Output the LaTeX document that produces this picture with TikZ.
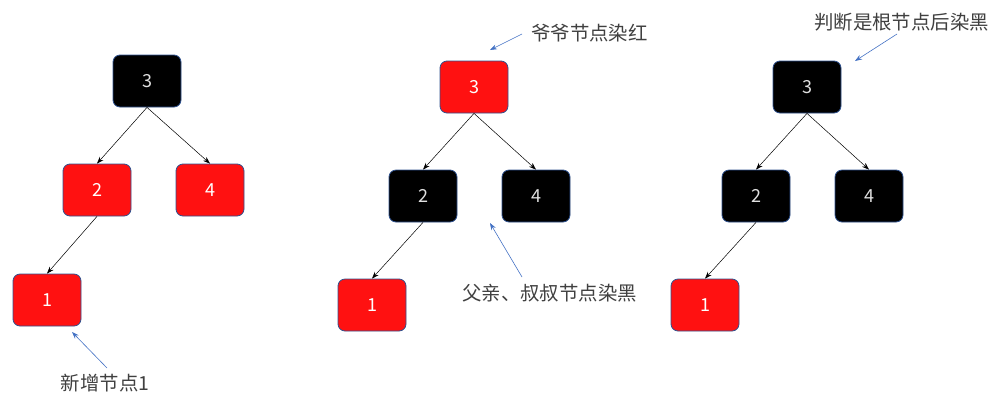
\documentclass[tikz,border=0pt]{standalone}
\usepackage{fontspec}
\setmainfont{Noto Sans CJK SC}
\usetikzlibrary{arrows.meta}
\definecolor{nred}{HTML}{FF1111}
\definecolor{nborder}{HTML}{2F528F}
\definecolor{nblue}{HTML}{4472C4}
\definecolor{ntext}{HTML}{404040}
\tikzset{
  tnode/.style={draw=nborder, line width=0.8pt, rounded corners=7pt, minimum width=68pt, minimum height=52pt, inner sep=0pt, font=\fontsize{18}{21}\selectfont},
  rednode/.style={tnode, fill=nred, text=white},
  blacknode/.style={tnode, fill=black, text=white!88!black},
  edge/.style={-{Stealth[length=7pt,width=5pt]}, line width=0.5pt, black},
  note/.style={-{Stealth[length=7pt,width=5pt]}, line width=0.6pt, nblue},
  label/.style={text=ntext, inner sep=0pt, font=\fontsize{19.4}{22}\selectfont}
}
\begin{document}
\begin{tikzpicture}[x=1pt,y=-1pt]
\useasboundingbox (0,0) rectangle (1007,408);
% tree 1
\node[blacknode] (a3) at (147,81) {3};
\node[rednode] (a2) at (97,190) {2};
\node[rednode] (a4) at (210,190) {4};
\node[rednode] (a1) at (47,300) {1};
\draw[edge] (a3.south) -- (a2.north);
\draw[edge] (a3.south) -- (a4.north);
\draw[edge] (a2.south) -- (a1.north);
\node[label] (la) at (105,383) {新增节点1};
\coordinate (la0) at (107,368);
\coordinate (la1) at (72,332);
\draw[note] (la0) -- (la1);
% tree 2
\node[rednode] (b3) at (474,87) {3};
\node[blacknode] (b2) at (423,196) {2};
\node[blacknode] (b4) at (536,196) {4};
\node[rednode] (b1) at (372,305) {1};
\draw[edge] (b3.south) -- (b2.north);
\draw[edge] (b3.south) -- (b4.north);
\draw[edge] (b2.south) -- (b1.north);
\node[label, anchor=west] (lb) at (531,33) {爷爷节点染红};
\coordinate (lb0) at (522,34);
\coordinate (lb1) at (490,50);
\draw[note] (lb0) -- (lb1);
\node[label, anchor=west] (lc) at (462,293) {父亲、叔叔节点染黑};
\coordinate (lc0) at (522,277);
\coordinate (lc1) at (490,223);
\draw[note] (lc0) -- (lc1);
% tree 3
\node[blacknode] (c3) at (807,87) {3};
\node[blacknode] (c2) at (756,196) {2};
\node[blacknode] (c4) at (869,196) {4};
\node[rednode] (c1) at (705,305) {1};
\draw[edge] (c3.south) -- (c2.north);
\draw[edge] (c3.south) -- (c4.north);
\draw[edge] (c2.south) -- (c1.north);
\node[label, anchor=west] (ld) at (814,22) {判断是根节点后染黑};
\coordinate (ld0) at (897,34);
\coordinate (ld1) at (855,61);
\draw[note] (ld0) -- (ld1);
\end{tikzpicture}
\end{document}
